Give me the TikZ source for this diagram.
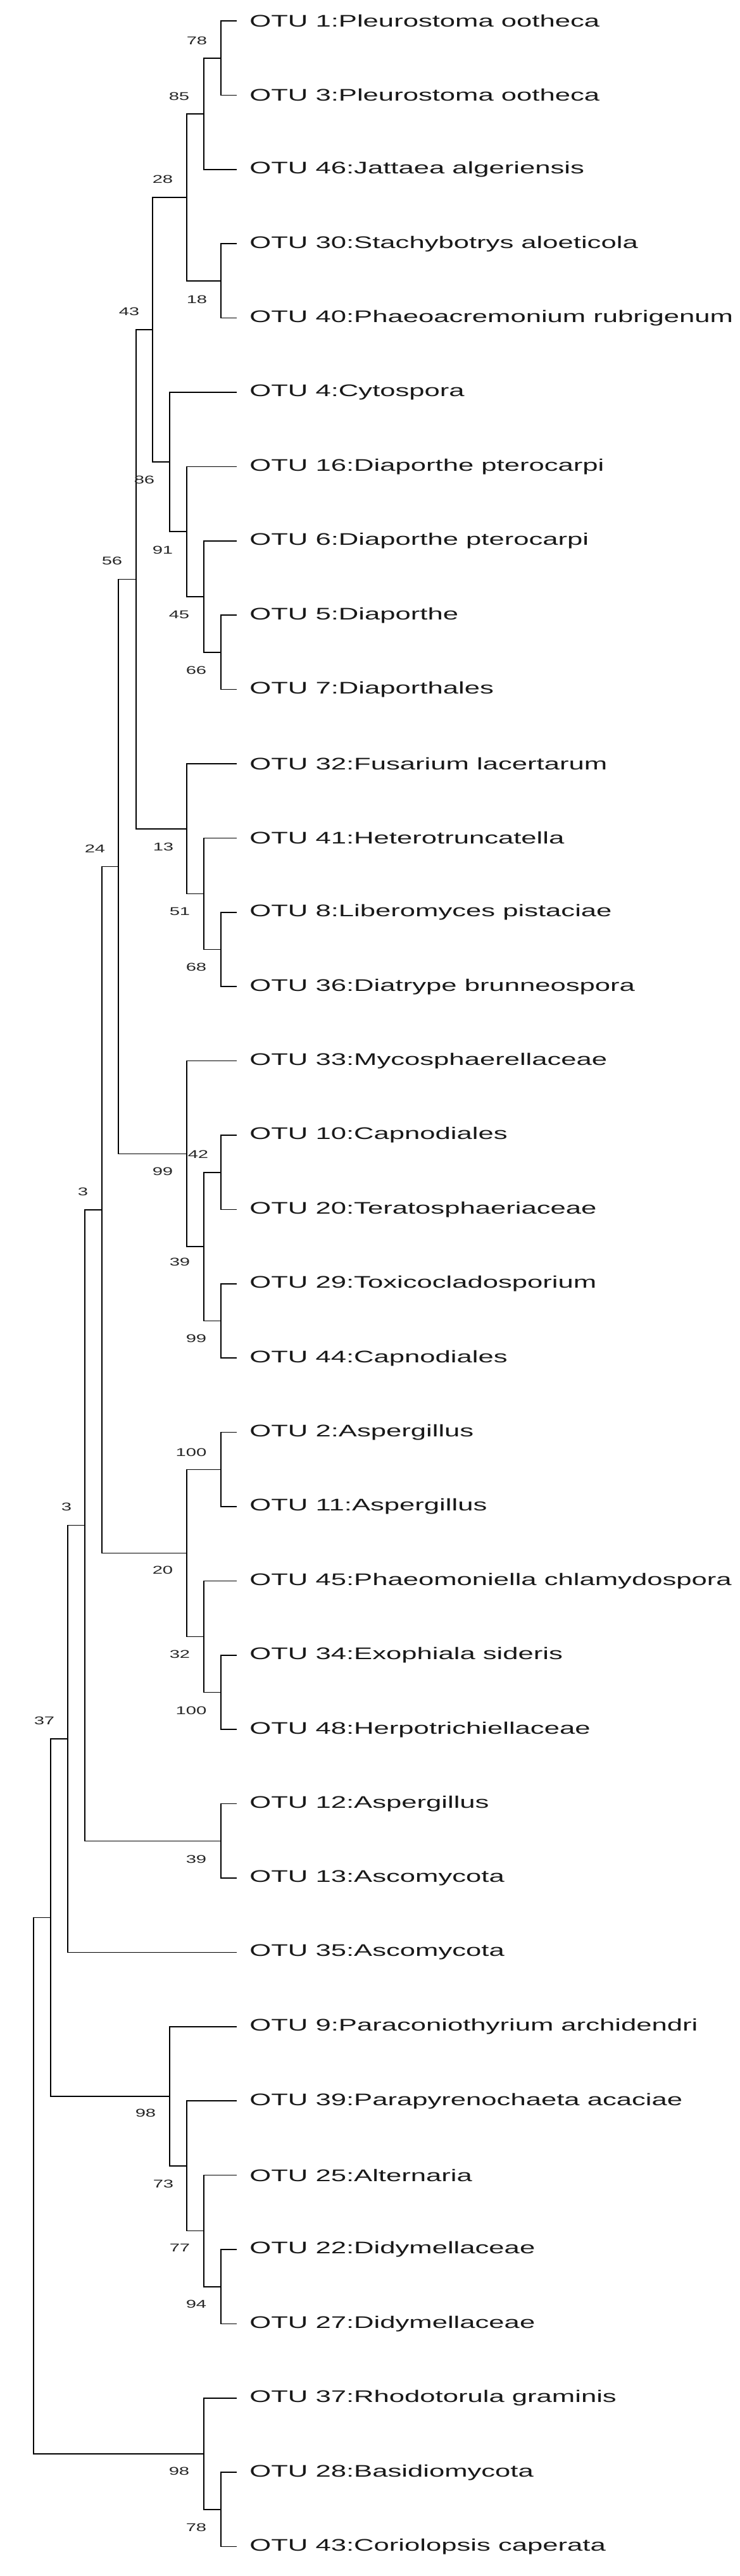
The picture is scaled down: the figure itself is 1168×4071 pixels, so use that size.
\documentclass[tikz,border=0pt]{standalone}
\usepackage{fontspec}
\newfontfamily\lab[FakeStretch=1.64]{Liberation Sans}
\begin{document}
\begin{tikzpicture}[x=0.5pt,y=-0.5pt,
  br/.style={draw=black,line width=0.8pt},
  leaf/.style={anchor=west,inner sep=0pt,font=\lab\fontsize{13.3pt}{14pt}\selectfont,text=black!90},
  bs/.style={inner sep=0pt,font=\lab\fontsize{8.9pt}{10pt}\selectfont,text=black!85}]
\useasboundingbox (0,0) rectangle (1168,4071);
% leaves
\foreach \n/\i/\t in {L1/0/{OTU 1:Pleurostoma ootheca},L3/1/{OTU 3:Pleurostoma ootheca},L46/2/{OTU 46:Jattaea algeriensis},L30/3/{OTU 30:Stachybotrys aloeticola},L40/4/{OTU 40:Phaeoacremonium rubrigenum},L4/5/{OTU 4:Cytospora},L16/6/{OTU 16:Diaporthe pterocarpi},L6/7/{OTU 6:Diaporthe pterocarpi},L5/8/{OTU 5:Diaporthe},L7/9/{OTU 7:Diaporthales},L32/10/{OTU 32:Fusarium lacertarum},L41/11/{OTU 41:Heterotruncatella},L8/12/{OTU 8:Liberomyces pistaciae},L36/13/{OTU 36:Diatrype brunneospora},L33/14/{OTU 33:Mycosphaerellaceae},L10/15/{OTU 10:Capnodiales},L20/16/{OTU 20:Teratosphaeriaceae},L29/17/{OTU 29:Toxicocladosporium},L44/18/{OTU 44:Capnodiales},L2/19/{OTU 2:Aspergillus},L11/20/{OTU 11:Aspergillus},L45/21/{OTU 45:Phaeomoniella chlamydospora},L34/22/{OTU 34:Exophiala sideris},L48/23/{OTU 48:Herpotrichiellaceae},L12/24/{OTU 12:Aspergillus},L13/25/{OTU 13:Ascomycota},L35/26/{OTU 35:Ascomycota},L9/27/{OTU 9:Paraconiothyrium archidendri},L39/28/{OTU 39:Parapyrenochaeta acaciae},L25/29/{OTU 25:Alternaria},L22/30/{OTU 22:Didymellaceae},L27/31/{OTU 27:Didymellaceae},L37/32/{OTU 37:Rhodotorula graminis},L28/33/{OTU 28:Basidiomycota},L43/34/{OTU 43:Coriolopsis caperata}}{
  \coordinate (\n) at (374,{33+117.4*\i});
  \node[leaf] (t\n) at (394,{33+117.4*\i}) {\t};
}
% internal nodes
\coordinate (a13) at (349,91.7);
\coordinate (a46) at (322,179.75);
\coordinate (a3040) at (349,443.9);
\coordinate (a28) at (295,311.8);
\coordinate (a57) at (349,1030.9);
\coordinate (a6) at (322,942.85);
\coordinate (a16) at (295,840.1);
\coordinate (a4) at (268,730);
\coordinate (a43) at (241,520.9);
\coordinate (a836) at (349,1500.5);
\coordinate (a41) at (322,1412.45);
\coordinate (a32) at (295,1309.7);
\coordinate (a56) at (215,915.3);
\coordinate (a1020) at (349,1852.7);
\coordinate (a2944) at (349,2087.5);
\coordinate (a39c) at (322,1970.1);
\coordinate (a33) at (295,1823.35);
\coordinate (a24) at (187,1369.3);
\coordinate (a211) at (349,2322.3);
\coordinate (a3448) at (349,2674.5);
\coordinate (a45) at (322,2586.45);
\coordinate (a20) at (295,2454.4);
\coordinate (a3a) at (161,1911.85);
\coordinate (a1213) at (349,2909.3);
\coordinate (a3b) at (134,2410.6);
\coordinate (a37) at (107,2748);
\coordinate (a2227) at (349,3613.7);
\coordinate (a25) at (322,3525.65);
\coordinate (a39) at (295,3422.9);
\coordinate (a9) at (268,3312.9);
\coordinate (ah) at (80,3030.4);
\coordinate (a2843) at (349,3965.9);
\coordinate (a37b) at (322,3877.85);
\coordinate (root) at (53,3454);
% branches
\foreach \p/\c/\d in {a13/L1/L3,a46/a13/L46,a3040/L30/L40,a28/a46/a3040,a57/L5/L7,a6/L6/a57,a16/L16/a6,a4/L4/a16,a43/a28/a4,a836/L8/L36,a41/L41/a836,a32/L32/a41,a56/a43/a32,a1020/L10/L20,a2944/L29/L44,a39c/a1020/a2944,a33/L33/a39c,a24/a56/a33,a211/L2/L11,a3448/L34/L48,a45/L45/a3448,a20/a211/a45,a3a/a24/a20,a1213/L12/L13,a3b/a3a/a1213,a37/a3b/L35,a2227/L22/L27,a25/L25/a2227,a39/L39/a25,a9/L9/a39,ah/a37/a9,a2843/L28/L43,a37b/L37/a2843,root/ah/a37b}{
  \draw[br] (\c) -| (\p) |- (\d);
}
% bootstrap labels
\foreach \v/\x/\y in {78/311/64,85/283/152,28/257/283,18/311/473,43/204/492,86/228/758,91/257/869,56/177/886,45/283/971,66/310/1059,24/150/1341,13/258/1338,51/284/1440,68/310/1528,42/313/1824,99/257/1851,3/131/1883,39/284/1994,99/310/2115,100/302/2295,3/105/2381,20/257/2481,32/284/2614,100/302/2703,37/70/2719,39/310/2938,98/230/3339,73/258/3451,77/284/3552,94/310/3641,98/283/3905,78/310/3994}{
  \node[bs] at (\x,\y) {\v};
}
\end{tikzpicture}
\end{document}
